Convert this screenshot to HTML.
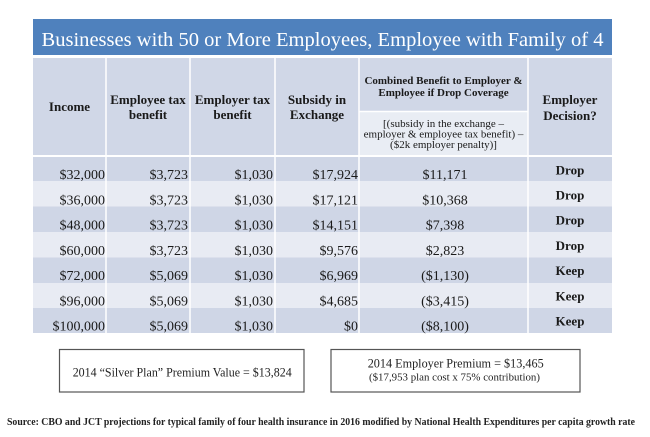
<!DOCTYPE html>
<html>
<head>
<meta charset="utf-8">
<style>
  html, body { margin:0; padding:0; background:#fff; }
  svg { display:block; }
  text { font-family: "Liberation Serif", "DejaVu Serif", serif; }
</style>
</head>
<body>
<svg width="650" height="437" viewBox="0 0 650 437" xmlns="http://www.w3.org/2000/svg">
  <rect x="0" y="0" width="650" height="437" fill="#ffffff"/>

  <!-- Title bar -->
  <rect x="33" y="19" width="579" height="36" fill="#4f81bd"/>
  <text x="41.5" y="46" font-size="20" fill="#ffffff" textLength="562" lengthAdjust="spacingAndGlyphs">Businesses with 50 or More Employees, Employee with Family of 4</text>

  <!-- Header -->
  <rect x="33" y="58" width="579" height="97" fill="#d0d7e7"/>
  <rect x="359" y="112" width="169" height="43" fill="#e9edf4"/>
  <line x1="359" y1="111.5" x2="528" y2="111.5" stroke="#ffffff" stroke-width="1.5"/>

  <!-- Body rows -->
  <rect x="33" y="157" width="579" height="24" fill="#cfd6e6"/>
  <rect x="33" y="181" width="579" height="25.5" fill="#e8ebf3"/>
  <rect x="33" y="206.5" width="579" height="25.5" fill="#cfd6e6"/>
  <rect x="33" y="232" width="579" height="25.5" fill="#e8ebf3"/>
  <rect x="33" y="257.5" width="579" height="25.5" fill="#cfd6e6"/>
  <rect x="33" y="283" width="579" height="25" fill="#e8ebf3"/>
  <rect x="33" y="308" width="579" height="25" fill="#cfd6e6"/>

  <!-- Vertical separators -->
  <g stroke="#ffffff" stroke-width="1.5">
    <line x1="106" y1="58" x2="106" y2="333"/>
    <line x1="190" y1="58" x2="190" y2="333"/>
    <line x1="275" y1="58" x2="275" y2="333"/>
    <line x1="359" y1="58" x2="359" y2="333"/>
    <line x1="528" y1="58" x2="528" y2="333"/>
  </g>

  <!-- Header text -->
  <g font-weight="bold" font-size="13" fill="#1a1a1a" text-anchor="middle">
    <text x="69.5" y="111">Income</text>
    <text x="148" y="104">Employee tax</text>
    <text x="148" y="119">benefit</text>
    <text x="232.5" y="104">Employer tax</text>
    <text x="232.5" y="119">benefit</text>
    <text x="317" y="104">Subsidy in</text>
    <text x="317" y="119">Exchange</text>
    <text x="570" y="104">Employer</text>
    <text x="570" y="120">Decision?</text>
  </g>
  <g font-weight="bold" font-size="11" fill="#1a1a1a" text-anchor="middle">
    <text x="443.5" y="84">Combined Benefit to Employer &amp;</text>
    <text x="443.5" y="96">Employee if Drop Coverage</text>
  </g>
  <g font-size="11" fill="#1a1a1a" text-anchor="middle">
    <text x="443.5" y="127">[(subsidy in the exchange –</text>
    <text x="443.5" y="137.5">employer &amp; employee tax benefit) –</text>
    <text x="443.5" y="148">($2k employer penalty)]</text>
  </g>

  <!-- Data -->
  <g font-size="14" fill="#1a1a1a">
    <g text-anchor="end">
      <text x="105" y="179">$32,000</text>
      <text x="105" y="204.3">$36,000</text>
      <text x="105" y="229.5">$48,000</text>
      <text x="105" y="255">$60,000</text>
      <text x="105" y="280">$72,000</text>
      <text x="105" y="305.3">$96,000</text>
      <text x="105" y="330.5">$100,000</text>

      <text x="188" y="179">$3,723</text>
      <text x="188" y="204.3">$3,723</text>
      <text x="188" y="229.5">$3,723</text>
      <text x="188" y="255">$3,723</text>
      <text x="188" y="280">$5,069</text>
      <text x="188" y="305.3">$5,069</text>
      <text x="188" y="330.5">$5,069</text>

      <text x="273" y="179">$1,030</text>
      <text x="273" y="204.3">$1,030</text>
      <text x="273" y="229.5">$1,030</text>
      <text x="273" y="255">$1,030</text>
      <text x="273" y="280">$1,030</text>
      <text x="273" y="305.3">$1,030</text>
      <text x="273" y="330.5">$1,030</text>

      <text x="358" y="179">$17,924</text>
      <text x="358" y="204.3">$17,121</text>
      <text x="358" y="229.5">$14,151</text>
      <text x="358" y="255">$9,576</text>
      <text x="358" y="280">$6,969</text>
      <text x="358" y="305.3">$4,685</text>
      <text x="358" y="330.5">$0</text>
    </g>
    <g text-anchor="middle">
      <text x="445" y="179">$11,171</text>
      <text x="445" y="204.3">$10,368</text>
      <text x="445" y="229.5">$7,398</text>
      <text x="445" y="255">$2,823</text>
      <text x="445" y="280">($1,130)</text>
      <text x="445" y="305.3">($3,415)</text>
      <text x="445" y="330.5">($8,100)</text>
    </g>
  </g>
  <g font-size="13" font-weight="bold" fill="#1a1a1a" text-anchor="middle">
    <text x="570" y="174.3">Drop</text>
    <text x="570" y="199.5">Drop</text>
    <text x="570" y="224.5">Drop</text>
    <text x="570" y="250">Drop</text>
    <text x="570" y="275">Keep</text>
    <text x="570" y="300.3">Keep</text>
    <text x="570" y="325.5">Keep</text>
  </g>

  <!-- Boxes -->
  <rect x="59.5" y="349.5" width="244.5" height="42.5" fill="#ffffff" stroke="#555555" stroke-width="1.2"/>
  <text x="72.7" y="376.7" font-size="13" fill="#222" textLength="219" lengthAdjust="spacingAndGlyphs">2014 “Silver Plan” Premium Value = $13,824</text>

  <rect x="331" y="349.5" width="249" height="42.5" fill="#ffffff" stroke="#555555" stroke-width="1.2"/>
  <text x="367.7" y="367.7" font-size="13" fill="#222" textLength="176" lengthAdjust="spacingAndGlyphs">2014 Employer Premium = $13,465</text>
  <text x="369" y="380.7" font-size="11" fill="#222" textLength="171" lengthAdjust="spacingAndGlyphs">($17,953 plan cost x 75% contribution)</text>

  <!-- Source -->
  <text x="7" y="425" font-size="10.5" font-weight="bold" fill="#222" textLength="628" lengthAdjust="spacingAndGlyphs">Source: CBO and JCT projections for typical family of four health insurance in 2016 modified by National Health Expenditures per capita growth rate</text>
</svg>
</body>
</html>
